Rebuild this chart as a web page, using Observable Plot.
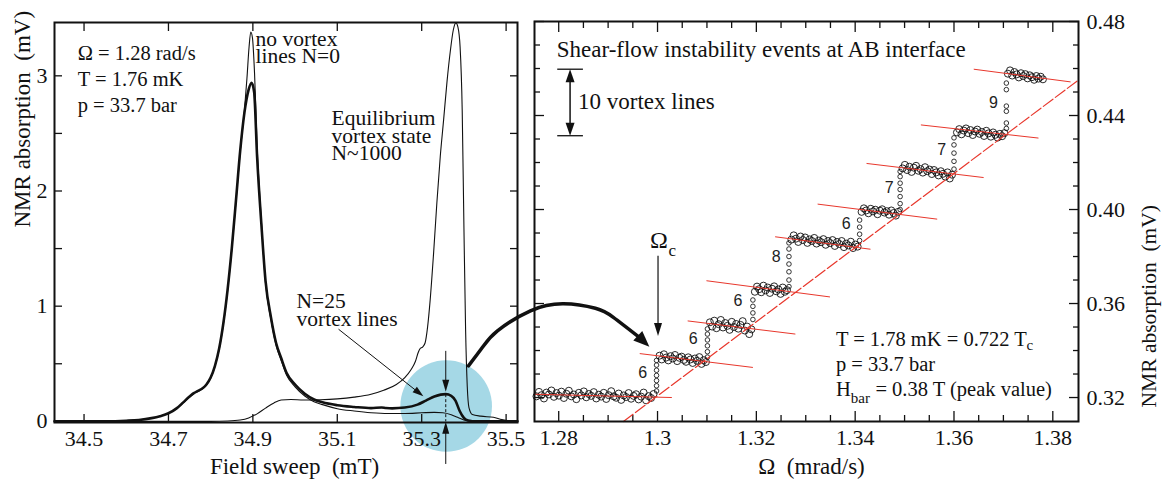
<!DOCTYPE html>
<html>
<head>
<meta charset="utf-8">
<script src="https://cdn.jsdelivr.net/npm/d3@7"></script>
<script src="https://cdn.jsdelivr.net/npm/@observablehq/plot@0.6"></script>
<style>
html, body { margin: 0; padding: 0; background: #fff; }
#wrap { position: relative; width: 1165px; height: 480px; overflow: hidden; background: #fff; }
#left, #right { position: absolute; top: 0; }
#left { left: 0; }
#right { left: 530px; }
#wrap [aria-label$="tick label"] { font-family: 'Liberation Serif', 'Times New Roman', Times, serif; font-variant: normal; }
</style>
</head>
<body>
<div id="wrap"><div id="left"></div><div id="right"></div></div>
<script>
// ================= LEFT PANEL DATA (field sweep, mT / NMR absorption, mV) =================
const n25Field = [34.43,34.55,34.60,34.63,34.66,34.68,34.70,34.72,34.735,34.75,34.76,34.77,34.78,34.79,34.80,34.81,34.82,34.83,34.84,34.85,34.86,34.87,34.88,34.89,34.897,34.903,34.91,34.92,34.93,34.943,34.955,34.967,34.98,35.00,35.023,35.045,35.065,35.10,35.14,35.18,35.205,35.215,35.23,35.26,35.29,35.31,35.33,35.345,35.357,35.37,35.38,35.39,35.40,35.41,35.43,35.527];
const n25Abs   = [0,0,0.005,0.012,0.028,0.045,0.07,0.115,0.165,0.215,0.245,0.265,0.285,0.32,0.38,0.48,0.63,0.85,1.14,1.50,1.92,2.35,2.68,2.88,2.94,2.86,2.30,1.72,1.22,0.90,0.68,0.55,0.42,0.32,0.24,0.19,0.165,0.14,0.125,0.115,0.12,0.116,0.113,0.12,0.145,0.18,0.215,0.232,0.236,0.222,0.18,0.09,0.03,0.008,0,0];

const n0Field = [34.43,34.55,34.60,34.63,34.66,34.68,34.70,34.72,34.735,34.75,34.76,34.77,34.78,34.79,34.80,34.81,34.82,34.83,34.84,34.85,34.86,34.87,34.88,34.886,34.891,34.895,34.899,34.904,34.91,34.92,34.93,34.943,34.955,34.967,34.98,35.00,35.023,35.045,35.065,35.10,35.14,35.18,35.22,35.26,35.30,35.33,35.35,35.37,35.385,35.40,35.42,35.527];
const n0Abs   = [0,0,0.005,0.012,0.028,0.045,0.07,0.112,0.16,0.21,0.24,0.26,0.28,0.315,0.375,0.475,0.62,0.84,1.13,1.49,1.91,2.34,2.70,2.98,3.25,3.38,3.33,3.02,2.40,1.75,1.20,0.88,0.66,0.53,0.40,0.30,0.22,0.17,0.145,0.11,0.09,0.075,0.068,0.068,0.074,0.078,0.075,0.058,0.035,0.012,0,0];

const eqField = [34.43,34.80,34.84,34.87,34.89,34.91,34.93,34.95,34.967,34.99,35.02,35.06,35.10,35.14,35.18,35.21,35.24,35.26,35.275,35.285,35.292,35.296,35.302,35.308,35.314,35.32,35.328,35.336,35.344,35.352,35.36,35.368,35.375,35.381,35.386,35.391,35.396,35.400,35.404,35.408,35.412,35.42,35.44,35.47,35.49,35.51,35.527];
const eqAbs   = [0,0,0.003,0.012,0.03,0.065,0.115,0.16,0.185,0.19,0.186,0.188,0.195,0.21,0.235,0.27,0.32,0.38,0.45,0.52,0.60,0.63,0.645,0.68,0.82,1.05,1.45,1.90,2.30,2.62,2.95,3.22,3.40,3.46,3.42,3.25,2.70,1.70,0.80,0.30,0.12,0.06,0.045,0.035,0.015,0.004,0];

const leftXTicks = [34.5, 34.7, 34.9, 35.1, 35.3, 35.5];
const leftYTicks = [0, 1, 2, 3];
const leftYMinor = [0.5, 1, 1.5, 2, 2.5, 3];

// ================= RIGHT PANEL DATA (Omega, mrad/s / NMR absorption, mV) =================
const stepStart = [1.2755, 1.3004, 1.3106, 1.3197, 1.3271, 1.3413, 1.3496, 1.3606, 1.3709];
const stepEnd   = [1.2992, 1.3098, 1.3190, 1.3262, 1.3405, 1.3487, 1.3596, 1.3702, 1.3780];
const plateau0 = [0.3205,0.3224,0.3210,0.3196,0.3221,0.3213,0.3230,0.3203,0.3219,0.3208,0.3225,0.3198,0.3216,0.3229,0.3205,0.3213,0.3193,0.3220,0.3209,0.3226,0.3201,0.3215,0.3207,0.3223,0.3196,0.3212,0.3204,0.3220,0.3194,0.3210,0.3227,0.3205,0.3199,0.3217,0.3190,0.3209,0.3202,0.3219,0.3195,0.3207,0.3214,0.3192,0.3204,0.3221,0.3188,0.3206,0.3198,0.3215];
const plateau1 = [0.3378,0.3362,0.3384,0.3370,0.3358,0.3376,0.3366,0.3381,0.3355,0.3369,0.3374,0.3360,0.3352,0.3371,0.3362,0.3347,0.3366,0.3356,0.3372,0.3343,0.3359,0.3351];
const plateau2 = [0.3520,0.3502,0.3527,0.3495,0.3512,0.3530,0.3498,0.3517,0.3505,0.3488,0.3522,0.3500,0.3513,0.3493,0.3509,0.3525,0.3485,0.3502,0.3470,0.3490];
const plateau3 = [0.3650,0.3672,0.3661,0.3648,0.3676,0.3656,0.3668,0.3645,0.3663,0.3673,0.3652,0.3660,0.3641,0.3668,0.3650,0.3657];
const plateau4 = [0.3872,0.3890,0.3876,0.3862,0.3885,0.3870,0.3881,0.3858,0.3873,0.3866,0.3879,0.3855,0.3868,0.3861,0.3874,0.3850,0.3866,0.3857,0.3870,0.3845,0.3862,0.3853,0.3866,0.3840,0.3855,0.3847,0.3863,0.3836,0.3851,0.3842];
const plateau5 = [0.3990,0.4005,0.3996,0.3984,0.4003,0.3992,0.3999,0.3980,0.3995,0.4001,0.3987,0.3993,0.3978,0.3996,0.3985,0.3974,0.3990];
const plateau6 = [0.4175,0.4190,0.4168,0.4182,0.4160,0.4178,0.4186,0.4165,0.4172,0.4157,0.4180,0.4163,0.4170,0.4151,0.4168,0.4158,0.4145,0.4163,0.4152,0.4140,0.4158,0.4132,0.4148];
const plateau7 = [0.4328,0.4342,0.4320,0.4336,0.4345,0.4325,0.4338,0.4317,0.4332,0.4340,0.4322,0.4330,0.4313,0.4335,0.4324,0.4310,0.4328,0.4318,0.4306,0.4322,0.4312,0.4325];
const plateau8 = [0.4578,0.4592,0.4570,0.4585,0.4575,0.4562,0.4580,0.4568,0.4576,0.4558,0.4571,0.4563,0.4552,0.4568,0.4557,0.4565,0.4554];

const jumpOmega = [1.2998, 1.3101, 1.3193, 1.3266, 1.3409, 1.3491, 1.3600, 1.3706];
const jump0 = [0.3228,0.3250,0.3272,0.3294,0.3316,0.3338,0.3358];
const jump1 = [0.3372,0.3395,0.3420,0.3445,0.3470,0.3492];
const jump2 = [0.3532,0.3560,0.3588,0.3615];
const jump3 = [0.3672,0.3700,0.3735,0.3768,0.3800,0.3832,0.3858];
const jump4 = [0.3868,0.3895,0.3925,0.3955];
const jump5 = [0.4000,0.4025,0.4055,0.4085,0.4112,0.4140,0.4162];
const jump6 = [0.4172,0.4205,0.4240,0.4275,0.4305];
const jump7 = [0.4345,0.4368,0.4418,0.4440,0.4510,0.4538];

const fitStartOmega = [1.2751, 1.2964, 1.3061, 1.3099, 1.3238, 1.3324, 1.3423, 1.3533, 1.3640];
const fitStartAbs   = [0.3214, 0.3387, 0.3526, 0.3697, 0.3884, 0.4023, 0.4196, 0.4360, 0.4597];
const fitEndOmega   = [1.3029, 1.3193, 1.3279, 1.3349, 1.3431, 1.3566, 1.3660, 1.3771, 1.3836];
const fitEndAbs     = [0.3200, 0.3328, 0.3470, 0.3628, 0.3831, 0.3959, 0.4136, 0.4304, 0.4543];

const critOmega = [1.2931, 1.3850];
const critAbs   = [0.3098, 0.4548];

const eventCounts = [6, 6, 6, 8, 6, 7, 7, 9];
const eventOmega  = [1.2970, 1.3072, 1.3163, 1.3240, 1.3382, 1.3469, 1.3575, 1.3680];
const eventAbs    = [0.3303, 0.3450, 0.3611, 0.3800, 0.3938, 0.4090, 0.4253, 0.4455];

const rightXTicks = [1.28, 1.30, 1.32, 1.34, 1.36, 1.38];
const rightXMinor = [1.285, 1.29, 1.295, 1.305, 1.31, 1.315, 1.325, 1.33, 1.335, 1.345, 1.35, 1.355, 1.365, 1.37, 1.375];
const rightYTicks = [0.32, 0.36, 0.40, 0.44, 0.48];
const rightYMinor = [0.33, 0.34, 0.35, 0.37, 0.38, 0.39, 0.41, 0.42, 0.43, 0.45, 0.46, 0.47];

// ================= helpers =================
const serif = "'Liberation Serif','Times New Roman',Times,serif";
const sans = "'Liberation Sans',Arial,Helvetica,sans-serif";
const red = "#e8372c";

// filled arrowhead symbol, tip at the anchor, direction in degrees clockwise from "up"
function head(deg, len, hw) {
  const t = deg * Math.PI / 180;
  const ux = Math.sin(t), uy = -Math.cos(t), px = Math.cos(t), py = Math.sin(t);
  return {
    draw(ctx) {
      const bx = -len * ux, by = -len * uy;
      ctx.moveTo(0, 0);
      ctx.lineTo(bx + hw * px, by + hw * py);
      ctx.lineTo(bx - hw * px, by - hw * py);
      ctx.closePath();
    }
  };
}
function note(s, x, y, o = {}) {
  return Plot.text([{s, x, y}], {x: "x", y: "y", text: "s", textAnchor: "start", lineAnchor: "bottom", fontFamily: serif, ...o});
}
function tip(x, y, deg, len, hw) {
  return Plot.dot([{x, y}], {x: "x", y: "y", symbol: head(deg, len, hw), r: 5, fill: "#111", stroke: "none"});
}
const tickOnly = {strokeWidth: 1.3, fill: "none", tickFormat: () => "", label: null};
const tickText = {tickSize: 0, fontSize: 22, fontFamily: serif, label: null};

// ================= LEFT PANEL =================
const toPts = (xs, ys) => xs.map((x, i) => ({x, y: ys[i]}));

const left = Plot.plot({
  width: 530, height: 480,
  marginLeft: 54, marginRight: 13, marginTop: 22, marginBottom: 58,
  x: {domain: [34.430, 35.527]},
  y: {domain: [-0.01, 3.463]},
  style: {background: "transparent", overflow: "visible", fontFamily: serif, fontSize: "22px", color: "#111"},
  marks: [
    Plot.dot([{x: 35.358, y: 0.133}], {x: "x", y: "y", r: 45.8, fill: "#a5d8e6", stroke: "none"}),
    Plot.axisX({ticks: leftXTicks, anchor: "bottom", tickSize: -8, ...tickOnly}),
    Plot.axisX({ticks: leftXTicks, anchor: "top", tickSize: -8, ...tickOnly}),
    Plot.axisY({ticks: leftYMinor, anchor: "left", tickSize: -8, ...tickOnly}),
    Plot.axisY({ticks: leftYMinor, anchor: "right", tickSize: -8, ...tickOnly}),
    Plot.axisX({ticks: leftXTicks, anchor: "bottom", tickPadding: 8, tickFormat: ".1f", ...tickText}),
    Plot.axisY({ticks: leftYTicks, anchor: "left", tickPadding: 7, tickFormat: "d", ...tickText}),
    Plot.text(["Field sweep  (mT)"], {frameAnchor: "bottom", dx: 8.5, dy: 51, lineAnchor: "bottom", fontSize: 23, fontFamily: serif, text: d => d}),
    Plot.text(["NMR absorption  (mV)"], {frameAnchor: "left", rotate: -90, dx: -25, dy: 5, lineAnchor: "bottom", fontSize: 23, fontFamily: serif, text: d => d}),
    // curves
    Plot.line(toPts(eqField, eqAbs), {x: "x", y: "y", curve: "monotone-x", stroke: "#111", strokeWidth: 1.1}),
    Plot.line(toPts(n0Field, n0Abs), {x: "x", y: "y", curve: "monotone-x", stroke: "#111", strokeWidth: 1.1}),
    Plot.line(toPts(n25Field, n25Abs), {x: "x", y: "y", curve: "monotone-x", stroke: "#111", strokeWidth: 2.6}),
    Plot.frame({strokeWidth: 2, stroke: "#111"}),
    // arrows around the N=25 bump
    Plot.link([{x1: 35.357, y1: 0.612, x2: 35.357, y2: 0.30}], {x1: "x1", y1: "y1", x2: "x2", y2: "y2", stroke: "#111", strokeWidth: 1}),
    tip(35.357, 0.256, 180, 12, 3.5),
    Plot.link([{x1: 35.357, y1: 0.236, x2: 35.357, y2: 0.0}], {x1: "x1", y1: "y1", x2: "x2", y2: "y2", stroke: "#111", strokeWidth: 1, strokeDasharray: "3,2"}),
    Plot.link([{x1: 35.357, y1: -0.37, x2: 35.357, y2: -0.05}], {x1: "x1", y1: "y1", x2: "x2", y2: "y2", stroke: "#111", strokeWidth: 1}),
    tip(35.357, -0.004, 0, 12, 3.5),
    Plot.link([{x1: 35.103, y1: 0.80, x2: 35.285, y2: 0.272}], {x1: "x1", y1: "y1", x2: "x2", y2: "y2", stroke: "#111", strokeWidth: 1}),
    tip(35.304, 0.217, 128.3, 11, 3.5),
    // annotations
    note("Ω = 1.28 rad/s\nT = 1.76 mK\np = 33.7 bar", 34.485, 2.686, {fontSize: 20.5, lineHeight: 1.27}),
    note("no vortex\nlines N=0", 34.9065, 3.108, {fontSize: 21.5, lineHeight: 0.83}),
    note("Equilibrium\nvortex state\nN~1000", 35.0864, 2.265, {fontSize: 21.5, lineHeight: 0.83}),
    note("N=25\nvortex lines", 35.0036, 0.829, {fontSize: 21.5, lineHeight: 0.83})
  ]
});
document.getElementById("left").append(left);

// ================= RIGHT PANEL =================
const plateaus = [plateau0, plateau1, plateau2, plateau3, plateau4, plateau5, plateau6, plateau7, plateau8];
const plateauPts = [];
plateaus.forEach((ys, i) => ys.forEach((a, j) => plateauPts.push({w: stepStart[i] + (stepEnd[i] - stepStart[i]) * j / (ys.length - 1), a})));
const jumps = [jump0, jump1, jump2, jump3, jump4, jump5, jump6, jump7];
const jumpPts = [];
jumps.forEach((ys, i) => ys.forEach(a => jumpPts.push({w: jumpOmega[i], a})));
const fits = fitStartOmega.map((w, i) => ({x1: w, y1: fitStartAbs[i], x2: fitEndOmega[i], y2: fitEndAbs[i]}));
const events = eventCounts.map((n, i) => ({n: String(n), w: eventOmega[i], a: eventAbs[i]}));
const arc = [
  {w: 1.26174, a: 0.33349}, {w: 1.26457, a: 0.34136}, {w: 1.2676, a: 0.34838}, {w: 1.27428, a: 0.35689},
  {w: 1.28095, a: 0.35987}, {w: 1.28742, a: 0.35796}, {w: 1.29106, a: 0.35413}, {w: 1.29632, a: 0.34562}
];

const right = Plot.plot({
  width: 635, height: 480,
  marginLeft: 4, marginRight: 87, marginTop: 21, marginBottom: 59,
  x: {domain: [1.2751, 1.3852]},
  y: {domain: [0.3098, 0.48]},
  style: {background: "transparent", overflow: "visible", fontFamily: serif, fontSize: "22px", color: "#111"},
  marks: [
    Plot.axisX({ticks: rightXTicks, anchor: "bottom", tickSize: -10, ...tickOnly}),
    Plot.axisX({ticks: rightXMinor, anchor: "bottom", tickSize: -6, ...tickOnly}),
    Plot.axisX({ticks: rightXTicks, anchor: "top", tickSize: -10, ...tickOnly}),
    Plot.axisX({ticks: rightXMinor, anchor: "top", tickSize: -6, ...tickOnly}),
    Plot.axisY({ticks: rightYTicks, anchor: "left", tickSize: -10, ...tickOnly}),
    Plot.axisY({ticks: rightYMinor, anchor: "left", tickSize: -6, ...tickOnly}),
    Plot.axisY({ticks: rightYTicks, anchor: "right", tickSize: -10, ...tickOnly}),
    Plot.axisY({ticks: rightYMinor, anchor: "right", tickSize: -6, ...tickOnly}),
    Plot.axisX({ticks: rightXTicks, anchor: "bottom", tickPadding: 8, tickFormat: d => String(+d.toFixed(2)), ...tickText}),
    Plot.axisY({ticks: rightYTicks, anchor: "right", tickPadding: 8, tickFormat: ".2f", ...tickText}),
    Plot.text(["Ω  (mrad/s)"], {frameAnchor: "bottom", dx: 5, dy: 52, lineAnchor: "bottom", fontSize: 23, fontFamily: serif, text: d => d}),
    Plot.text(["NMR absorption  (mV)"], {frameAnchor: "right", rotate: -90, dx: 77, dy: -16.5, lineAnchor: "bottom", fontSize: 21.5, fontFamily: serif, text: d => d}),
    // data
    Plot.dot(plateauPts, {x: "w", y: "a", r: 3.5, stroke: "#111", strokeWidth: 0.9, fill: "none"}),
    Plot.dot(jumpPts, {x: "w", y: "a", r: 2.3, stroke: "#111", strokeWidth: 0.85, fill: "none"}),
    Plot.line(critOmega.map((w, i) => ({w, a: critAbs[i]})), {x: "w", y: "a", stroke: red, strokeWidth: 1.2, strokeDasharray: "12,3"}),
    Plot.link(fits, {x1: "x1", y1: "y1", x2: "x2", y2: "y2", stroke: red, strokeWidth: 1}),
    Plot.text(events, {x: "w", y: "a", text: "n", fontFamily: sans, fontSize: 16, fill: "#222"}),
    Plot.frame({strokeWidth: 2, stroke: "#111"}),
    // annotations
    note("Shear-flow instability events at AB interface", 1.2796, 0.4650, {fontSize: 23}),
    note("10 vortex lines", 1.2839, 0.4427, {fontSize: 23}),
    Plot.link([{x1: 1.2797, x2: 1.2849, y: 0.4597}, {x1: 1.2797, x2: 1.2849, y: 0.4314}], {x1: "x1", x2: "x2", y1: "y", y2: "y", stroke: "#111", strokeWidth: 1.3}),
    Plot.link([{x: 1.2823, y1: 0.4330, y2: 0.4580}], {x1: "x", x2: "x", y1: "y1", y2: "y2", stroke: "#111", strokeWidth: 1.5}),
    tip(1.2823, 0.4597, 0, 13, 4.5),
    tip(1.2823, 0.4314, 180, 13, 4.5),
    note("Ω", 1.2985, 0.3838, {fontSize: 24}),
    note("c", 1.3022, 0.3803, {fontSize: 17}),
    Plot.link([{x: 1.3001, y1: 0.3803, y2: 0.3500}], {x1: "x", x2: "x", y1: "y1", y2: "y2", stroke: "#111", strokeWidth: 1.2}),
    tip(1.3001, 0.3462, 180, 13, 4),
    note("T = 1.78 mK = 0.722 T", 1.3361, 0.3420, {fontSize: 20.5}),
    note("c", 1.3747, 0.3403, {fontSize: 15}),
    note("p = 33.7 bar", 1.3361, 0.3311, {fontSize: 20.5}),
    note("H", 1.3361, 0.3207, {fontSize: 20.5}),
    note("bar", 1.3391, 0.3176, {fontSize: 15}),
    note("= 0.38 T (peak value)", 1.3441, 0.3207, {fontSize: 20.5}),
    // curved arrow from the left panel to Omega_c
    Plot.line(arc, {x: "w", y: "a", curve: "natural", stroke: "#111", strokeWidth: 3.5}),
    tip(1.29835, 0.34157, 133.5, 16, 6.5)
  ]
});
document.getElementById("right").append(right);
</script>
</body>
</html>
